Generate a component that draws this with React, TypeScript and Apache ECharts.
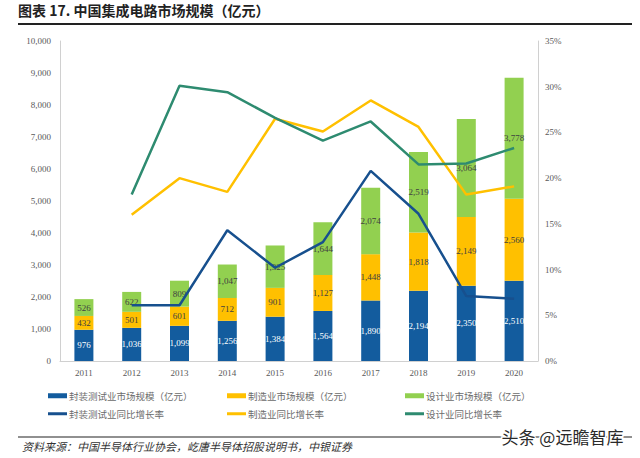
import React, { useEffect, useRef } from "react";
import * as echarts from "echarts";

const years = ["2011", "2012", "2013", "2014", "2015", "2016", "2017", "2018", "2019", "2020"];
const packaging = [976, 1036, 1099, 1256, 1384, 1564, 1890, 2194, 2350, 2510];
const manufacturing = [432, 501, 601, 712, 901, 1127, 1448, 1818, 2149, 2560];
const design = [526, 622, 809, 1047, 1325, 1644, 2074, 2519, 3064, 3778];
const packagingGrowth = [null, 6.1, 6.1, 14.3, 10.2, 13.0, 20.8, 16.1, 7.1, 6.8];
const manufacturingGrowth = [null, 16.0, 20.0, 18.5, 26.5, 25.1, 28.5, 25.6, 18.2, 19.1];
const designGrowth = [null, 18.2, 30.1, 29.4, 26.6, 24.1, 26.2, 21.5, 21.6, 23.3];
const leftTicks = { min: 0, max: 10000, interval: 1000 };
const rightTicks = { min: 0, max: 35, interval: 5 };

const names = {
  pkg: "封装测试业市场规模（亿元）",
  mfg: "制造业市场规模（亿元）",
  des: "设计业市场规模（亿元）",
  pkgG: "封装测试业同比增长率",
  mfgG: "制造业同比增长率",
  desG: "设计业同比增长率",
};

const C = {
  blueBar: "#135C9E",
  yellow: "#FFC000",
  green: "#92D050",
  blueLine: "#17508E",
  teal: "#2E8B70",
};

const serif = "'Liberation Serif', 'DejaVu Serif', serif";
const cjk = "'Noto Sans CJK SC', sans-serif";

const fmt = (v: number) => v.toLocaleString("en-US");

export default function App() {
  const ref = useRef<HTMLDivElement>(null);
  useEffect(() => {
    if (!ref.current) return;
    const chart = echarts.init(ref.current, undefined, { renderer: "svg" });
    const barLabel = (color: string) => ({
      show: true,
      position: "inside" as const,
      color,
      fontFamily: serif,
      fontSize: 9,
      formatter: (p: any) => fmt(p.value),
    });
    const legendItem = (name: string, left: number, top: number, h: number) => ({
      left,
      top,
      data: [name],
      itemWidth: 19,
      itemHeight: h,
      icon: "rect",
      itemGap: 0,
      padding: 0,
      textStyle: { color: "#6b6b6b", fontSize: 9.5, fontFamily: cjk, padding: [0, 0, 0, -3] },
    });
    chart.setOption({
      animation: false,
      backgroundColor: "#ffffff",
      grid: { left: 60, right: 102, top: 41, bottom: 97 },
      legend: [
        legendItem(names.pkg, 48, 391, 5),
        legendItem(names.mfg, 227, 391, 5),
        legendItem(names.des, 405, 391, 5),
        legendItem(names.pkgG, 48, 409, 3),
        legendItem(names.mfgG, 227, 409, 3),
        legendItem(names.desG, 405, 409, 3),
      ],
      xAxis: {
        type: "category",
        data: years,
        axisLine: { lineStyle: { color: "#d0d0d0" } },
        axisTick: { show: false },
        axisLabel: { color: "#595959", fontFamily: serif, fontSize: 9, margin: 7 },
      },
      yAxis: [
        {
          type: "value",
          ...leftTicks,
          axisLine: { show: true, lineStyle: { color: "#d0d0d0" } },
          axisTick: { show: false },
          splitLine: { show: false },
          axisLabel: { color: "#595959", fontFamily: serif, fontSize: 9, margin: 9, formatter: (v: number) => fmt(v) },
        },
        {
          type: "value",
          ...rightTicks,
          position: "right",
          axisLine: { show: true, lineStyle: { color: "#d0d0d0" } },
          axisTick: { show: false },
          splitLine: { show: false },
          axisLabel: { color: "#595959", fontFamily: serif, fontSize: 9, margin: 7, formatter: "{value}%" },
        },
      ],
      series: [
        { name: names.pkg, type: "bar", stack: "t", data: packaging, barWidth: 19, itemStyle: { color: C.blueBar }, label: barLabel("#ffffff") },
        { name: names.mfg, type: "bar", stack: "t", data: manufacturing, barWidth: 19, itemStyle: { color: C.yellow }, label: barLabel("#404040") },
        { name: names.des, type: "bar", stack: "t", data: design, barWidth: 19, itemStyle: { color: C.green }, label: barLabel("#404040") },
        { name: names.pkgG, type: "line", yAxisIndex: 1, data: packagingGrowth, showSymbol: false, lineStyle: { width: 2.5, color: C.blueLine }, itemStyle: { color: C.blueLine }, z: 5 },
        { name: names.mfgG, type: "line", yAxisIndex: 1, data: manufacturingGrowth, showSymbol: false, lineStyle: { width: 2.5, color: C.yellow }, itemStyle: { color: C.yellow }, z: 5 },
        { name: names.desG, type: "line", yAxisIndex: 1, data: designGrowth, showSymbol: false, lineStyle: { width: 2.5, color: C.teal }, itemStyle: { color: C.teal }, z: 5 },
      ],
      graphic: [
        {
          type: "text",
          left: 18,
          top: 3,
          style: { text: "图表 17. 中国集成电路市场规模（亿元）", fill: "#222", font: `bold 14px ${cjk}` },
        },
        { type: "line", shape: { x1: 18, y1: 24, x2: 632, y2: 24 }, style: { stroke: "#222", lineWidth: 2 } },
        { type: "line", shape: { x1: 18, y1: 437, x2: 632, y2: 437 }, style: { stroke: "#222", lineWidth: 1.2 } },
        {
          type: "text",
          left: 22,
          top: 440,
          style: { text: "资料来源：中国半导体行业协会，屹唐半导体招股说明书，中银证券", fill: "#333", font: `italic 11px ${cjk}` },
        },
        {
          type: "text",
          left: 500,
          top: 426,
          z: 10,
          style: { text: "头条 @远瞻智库", fill: "#2a2a2a", stroke: "#ffffff", lineWidth: 3, font: `17px ${cjk}` },
        },
      ],
    });
    return () => chart.dispose();
  }, []);
  return <div ref={ref} style={{ position: "fixed", left: 0, top: 0, width: 640, height: 458 }} />;
}
